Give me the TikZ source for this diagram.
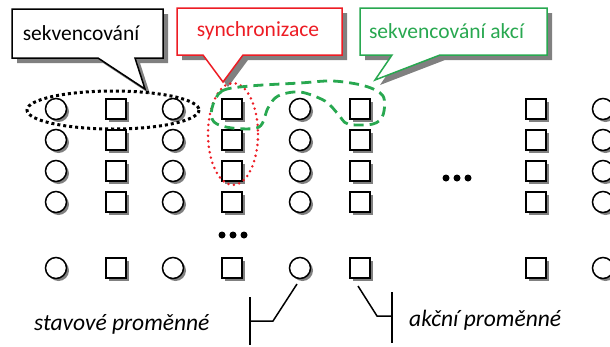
\documentclass[tikz,border=0pt]{standalone}
\usepackage{fontspec}
\setmainfont{Carlito}
\usetikzlibrary{shadows}
\definecolor{myred}{RGB}{237,28,36}
\definecolor{mygreen}{RGB}{40,168,80}
\definecolor{shade}{RGB}{128,128,128}
\tikzset{
  nshadow/.style={drop shadow={shadow xshift=2.5pt, shadow yshift=-2.5pt, fill=shade, opacity=1}},
  vcirc/.style={circle, draw, line width=1.5pt, minimum size=21pt, inner sep=0pt, fill=white, nshadow},
  vsq/.style={rectangle, draw, line width=1.5pt, minimum size=20pt, inner sep=0pt, fill=white, nshadow},
  dotn/.style={circle, fill=black, minimum size=7pt, inner sep=0pt},
  ctext/.style={font=\fontsize{21.5}{25}\selectfont, inner sep=0pt},
  itext/.style={font=\fontsize{23.5}{27}\selectfont\itshape, inner sep=0pt, anchor=west},
  cshadow/.style={fill=shade, shift={(5,5)}},
  cbox/.style={fill=white, line width=1.5pt, line join=miter},
  bracket/.style={line width=1.5pt}
}
\begin{document}
\begin{tikzpicture}[x=1pt, y=-1pt]
\useasboundingbox (0,0) rectangle (610,346);

% callout 1
\fill[cshadow] (12,9) -- (163,9) -- (163,58) -- (135,58) -- (145,89) -- (98,58) -- (12,58) -- cycle;
\filldraw[cbox, draw=black] (12,9) -- (163,9) -- (163,58) -- (135,58) -- (145,89) -- (98,58) -- (12,58) -- cycle;
\node[ctext] (c1) at (81,33) {sekvencování};

% callout 2
\fill[cshadow] (177,8) -- (342,8) -- (342,55) -- (243,55) -- (223,82) -- (203,55) -- (177,55) -- cycle;
\filldraw[cbox, draw=myred] (177,8) -- (342,8) -- (342,55) -- (243,55) -- (223,82) -- (203,55) -- (177,55) -- cycle;
\node[ctext, text=myred] (c2) at (258,31) {synchronizace};

% callout 3
\fill[cshadow] (360,8) -- (547,8) -- (547,55) -- (440,55) -- (375,80) -- (392,55) -- (360,55) -- cycle;
\filldraw[cbox, draw=mygreen] (360,8) -- (547,8) -- (547,55) -- (440,55) -- (375,80) -- (392,55) -- (360,55) -- cycle;
\node[ctext, text=mygreen] (c3) at (446.5,31) {sekvencování akcí};

% grid of variables
\foreach \x/\c in {56/1,173/3,300/5,603/8}
  \foreach \y/\r in {109/1,140/2,171/3,202/4,268/5}
    \node[vcirc] (n\r-\c) at (\x,\y) {};
\foreach \x/\c in {116/2,232/4,360/6,536/7}
  \foreach \y/\r in {109/1,140/2,171/3,202/4,268/5}
    \node[vsq] (n\r-\c) at (\x,\y) {};

% ellipsis dots
\node[dotn] (da1) at (222,235) {};
\node[dotn] (da2) at (233,235) {};
\node[dotn] (da3) at (244,235) {};
\node[dotn] (db1) at (446,178) {};
\node[dotn] (db2) at (457,178) {};
\node[dotn] (db3) at (468,178) {};

% groupings
\draw[line width=3pt, dash pattern=on 3pt off 3pt] (113,110) ellipse [x radius=86, y radius=19];
\draw[myred, line width=2.8pt, line cap=round, dash pattern=on 0pt off 5.5pt] (233,134) ellipse [x radius=25, y radius=51];
\draw[mygreen, line width=2.8pt, dash pattern=on 10pt off 6pt]
  plot[smooth cycle, tension=0.55] coordinates {(212,108) (222,91) (250,86) (300,83) (333,81) (365,86) (383,96) (383,115) (373,124) (348,124) (338,114) (325,101) (300,92) (278,96) (268,108) (259,127) (232,128) (214,122)};

% labels and brackets
\node[itext] (sp) at (34,324) {stavové proměnné};
\node[itext] (ap) at (409,320) {akční proměnné};
\coordinate (b1t) at (250,297);
\coordinate (b1b) at (250,345);
\coordinate (b1m) at (250,321);
\coordinate (b1k) at (273,321);
\coordinate (b1e) at (297,284);
\draw[bracket] (b1t) -- (b1b);
\draw[bracket] (b1m) -- (b1k) -- (b1e);
\coordinate (b2t) at (392,292);
\coordinate (b2b) at (392,343);
\coordinate (b2m) at (392,316);
\coordinate (b2k) at (377,316);
\coordinate (b2e) at (358,286);
\draw[bracket] (b2t) -- (b2b);
\draw[bracket] (b2m) -- (b2k) -- (b2e);
\end{tikzpicture}
\end{document}
